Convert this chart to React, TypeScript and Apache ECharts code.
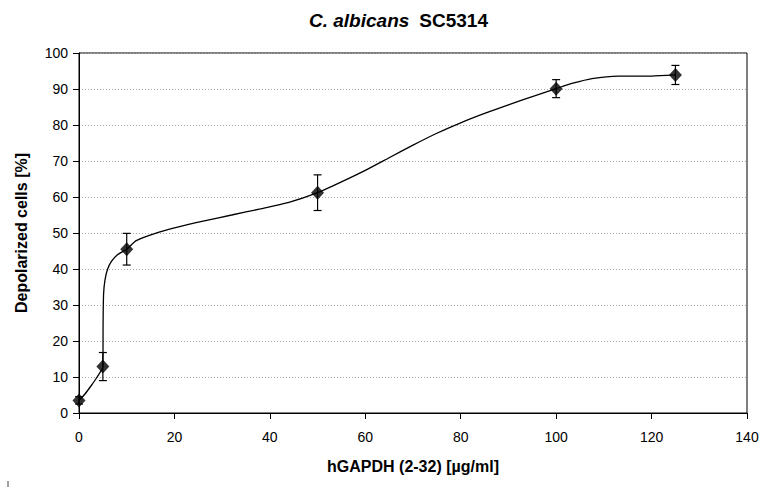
import React, { useEffect, useRef } from "react";
import * as echarts from "echarts";

// Measured points: concentration (µg/ml), depolarized cells (%), SD
const concentrations = [0, 5, 10, 50, 100, 125];
const depolarized = [3.5, 12.9, 45.5, 61.2, 90.1, 93.9];
const errors = [1, 3.9, 4.4, 4.95, 2.5, 2.65];

// Smoothed trend curve as drawn in the reference
const curveX = [0, 1.2, 2.5, 3.8, 5, 5.05, 5.15, 5.45, 6.0, 6.8, 8, 10, 12, 16, 20, 26, 32, 38, 44, 50, 55, 60, 65, 70, 75, 80, 85, 90, 95, 100, 103.5, 107.5, 113, 120, 125];
const curveY = [3.5, 5.2, 7.5, 10, 12.9, 25, 33, 37, 40, 42.1, 43.9, 45.5, 47.9, 49.9, 51.4, 53.3, 55.0, 56.7, 58.5, 61.2, 64.2, 67.4, 70.9, 74.4, 77.7, 80.6, 83.2, 85.6, 87.9, 90.1, 91.6, 92.9, 93.6, 93.6, 93.9];

const xTicks = [0, 20, 40, 60, 80, 100, 120, 140];
const yTicks = [0, 10, 20, 30, 40, 50, 60, 70, 80, 90, 100];

const titleItalic = "C. albicans";
const titleRest = "SC5314";
const xName = "hGAPDH (2-32) [µg/ml]";
const yName = "Depolarized cells [%]";

const FONT = "'Liberation Sans', Arial, sans-serif";

export default function App() {
  const ref = useRef<HTMLDivElement>(null);
  useEffect(() => {
    if (!ref.current) return;
    const chart = echarts.init(ref.current, undefined, { renderer: "svg" });
    const points = concentrations.map((c, i) => [c, depolarized[i], errors[i]]);
    const curve = curveX.map((x, i) => [x, curveY[i]]);
    chart.setOption({
      animation: false,
      backgroundColor: "#ffffff",
      textStyle: { fontFamily: FONT },
      title: {
        text: `{i|${titleItalic}}  {b|${titleRest}}`,
        left: 304,
        top: 6,
        textStyle: {
          rich: {
            i: { fontFamily: FONT, fontSize: 19, fontWeight: "bold", fontStyle: "italic", color: "#000" },
            b: { fontFamily: FONT, fontSize: 19, fontWeight: "bold", color: "#000" },
          },
        },
      },
      grid: {
        left: 79,
        right: 18,
        top: 53,
        bottom: 74,
        show: true,
        borderColor: "#000",
        borderWidth: 1,
        backgroundColor: "transparent",
      },
      xAxis: {
        type: "value",
        min: xTicks[0],
        max: xTicks[xTicks.length - 1],
        interval: 20,
        name: xName,
        nameLocation: "middle",
        nameGap: 45,
        nameTextStyle: { fontFamily: FONT, fontSize: 16, fontWeight: "bold", color: "#000" },
        axisLine: { show: true, lineStyle: { color: "#000", width: 1 } },
        axisTick: { show: true, inside: false, length: 6, lineStyle: { color: "#000" } },
        axisLabel: { fontFamily: FONT, fontSize: 14, color: "#000", margin: 17 },
        splitLine: { show: false },
      },
      yAxis: {
        type: "value",
        min: yTicks[0],
        max: yTicks[yTicks.length - 1],
        interval: 10,
        name: yName,
        nameLocation: "middle",
        nameGap: 50,
        nameRotate: 90,
        nameTextStyle: { fontFamily: FONT, fontSize: 16, fontWeight: "bold", color: "#000" },
        axisLine: { show: true, lineStyle: { color: "#000", width: 1 } },
        axisTick: { show: true, inside: false, length: 6, lineStyle: { color: "#000" } },
        axisLabel: { fontFamily: FONT, fontSize: 14, color: "#000", margin: 11 },
        splitLine: { show: true, lineStyle: { color: "#a8a8a8", type: [1, 2], width: 1 } },
      },
      graphic: [
        { type: "line", shape: { x1: 8, y1: 481, x2: 8, y2: 487 }, style: { stroke: "#444", lineWidth: 1 } },
      ],
      series: [
        {
          type: "line",
          data: curve,
          smooth: 0.2,
          showSymbol: false,
          symbol: "none",
          lineStyle: { color: "#000", width: 1.3 },
          z: 2,
        },
        {
          type: "custom",
          data: points,
          z: 3,
          renderItem: (params: any, api: any) => {
            const x = api.value(0);
            const y = api.value(1);
            const e = api.value(2);
            const top = api.coord([x, y + e]);
            const bot = api.coord([x, y - e]);
            const w = 4;
            const st = { stroke: "#000", lineWidth: 1.2 };
            return {
              type: "group",
              children: [
                { type: "line", shape: { x1: top[0], y1: top[1], x2: bot[0], y2: bot[1] }, style: st },
                { type: "line", shape: { x1: top[0] - w, y1: top[1], x2: top[0] + w, y2: top[1] }, style: st },
                { type: "line", shape: { x1: bot[0] - w, y1: bot[1], x2: bot[0] + w, y2: bot[1] }, style: st },
              ],
            };
          },
        },
        {
          type: "scatter",
          data: points.map((p) => [p[0], p[1]]),
          symbol: "diamond",
          symbolSize: [13, 14],
          itemStyle: { color: "#000" },
          z: 4,
        },
      ],
    });
    return () => chart.dispose();
  }, []);
  return <div ref={ref} style={{ width: 765, height: 487, position: "absolute", left: 0, top: 0 }} />;
}
